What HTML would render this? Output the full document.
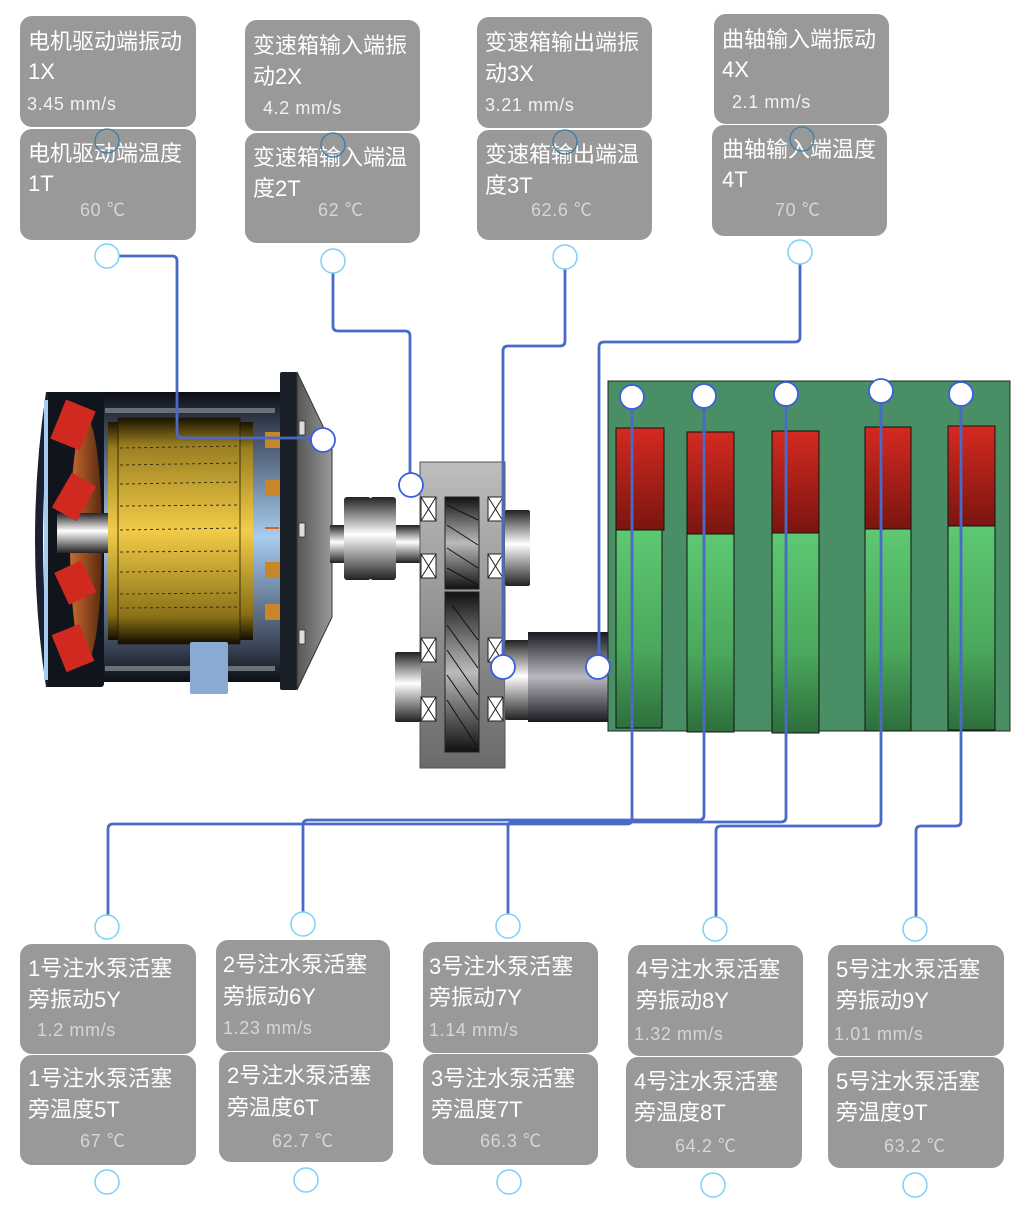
<!DOCTYPE html>
<html><head><meta charset="utf-8"><style>
html,body{margin:0;padding:0;background:#fff;width:1028px;height:1208px;overflow:hidden}
svg{display:block}
.t{font-family:"Liberation Sans","Noto Sans CJK SC",sans-serif;font-size:22px;fill:#fff}
.v{font-family:"Liberation Sans","Noto Sans CJK SC",sans-serif;font-size:18px;fill:#f2f2f2;letter-spacing:0.6px}
.vt{font-family:"Liberation Sans","Noto Sans CJK SC",sans-serif;font-size:18px;fill:#d6d6d6;letter-spacing:0.6px}
.b{fill:#999}
.c{fill:#fff;stroke:#7fd0f5;stroke-width:1.5}
.f{fill:none;stroke:#3a7ea8;stroke-width:1.3}
.w{fill:none;stroke:#4a6ac8;stroke-width:2.8;stroke-linejoin:round}
.wc{fill:#fff;stroke:#3a5ee0;stroke-width:1.8}
</style></head><body>
<svg width="1028" height="1208" viewBox="0 0 1028 1208">
<defs>
<linearGradient id="red" x1="0" y1="0" x2="0" y2="1"><stop offset="0" stop-color="#d42a20"/><stop offset="1" stop-color="#7a1510"/></linearGradient>
<linearGradient id="grn" x1="0" y1="0" x2="0" y2="1"><stop offset="0" stop-color="#5ec872"/><stop offset="0.6" stop-color="#4aa85c"/><stop offset="1" stop-color="#2e6e3c"/></linearGradient>
<linearGradient id="cyl" x1="0" y1="0" x2="0" y2="1"><stop offset="0" stop-color="#222"/><stop offset="0.45" stop-color="#fff"/><stop offset="1" stop-color="#222"/></linearGradient>
<linearGradient id="cyl2" x1="0" y1="0" x2="0" y2="1"><stop offset="0" stop-color="#1a1a22"/><stop offset="0.5" stop-color="#b8b8c0"/><stop offset="1" stop-color="#1a1a22"/></linearGradient>
<linearGradient id="gear" x1="0" y1="0" x2="0" y2="1"><stop offset="0" stop-color="#111"/><stop offset="0.5" stop-color="#bbb"/><stop offset="1" stop-color="#111"/></linearGradient>
<linearGradient id="gbox" x1="0" y1="0" x2="0" y2="1"><stop offset="0" stop-color="#bdbdbd"/><stop offset="1" stop-color="#6a6a6a"/></linearGradient>
<linearGradient id="gold" x1="0" y1="0" x2="0" y2="1"><stop offset="0" stop-color="#1a1400"/><stop offset="0.12" stop-color="#9a7e20"/><stop offset="0.5" stop-color="#f2cc48"/><stop offset="0.88" stop-color="#8a7018"/><stop offset="1" stop-color="#120e00"/></linearGradient>
<linearGradient id="body" x1="0" y1="0" x2="0" y2="1"><stop offset="0" stop-color="#0c0e14"/><stop offset="0.12" stop-color="#3a4456"/><stop offset="0.5" stop-color="#a8ccf0"/><stop offset="0.88" stop-color="#3a4456"/><stop offset="1" stop-color="#0c0e14"/></linearGradient>
<linearGradient id="plate" x1="0" y1="0" x2="1" y2="0"><stop offset="0" stop-color="#555"/><stop offset="1" stop-color="#9a9a9a"/></linearGradient>
<linearGradient id="disk" x1="0" y1="0" x2="1" y2="0"><stop offset="0" stop-color="#c86a30"/><stop offset="1" stop-color="#5a2a10"/></linearGradient>
</defs>

<!-- Motor -->
<path d="M46 392 Q24 540 46 687 L52 687 Q34 540 52 392 Z" fill="#1a2030"/>
<rect x="44" y="400" width="6" height="280" fill="#a8ccf0"/>
<rect x="100" y="392" width="182" height="290" fill="url(#body)"/>
<g fill="#6a6f78"><rect x="105" y="408" width="170" height="5"/><rect x="105" y="666" width="170" height="5"/></g>
<rect x="48" y="392" width="56" height="295" rx="3" fill="#10141c"/>
<ellipse cx="86" cy="540" rx="16" ry="122" fill="url(#disk)"/>
<rect x="57" y="513" width="53" height="40" fill="url(#cyl)"/>
<g fill="#d02a20">
<rect x="57" y="404" width="32" height="42" transform="rotate(22 73 425)"/>
<rect x="60" y="477" width="28" height="40" transform="rotate(30 74 497)"/>
<rect x="60" y="565" width="30" height="35" transform="rotate(-25 75 582)"/>
<rect x="58" y="628" width="30" height="40" transform="rotate(-22 73 648)"/>
</g>
<rect x="108" y="422" width="145" height="218" fill="url(#gold)"/>
<rect x="118" y="418" width="122" height="226" fill="url(#gold)" stroke="#221a00" stroke-width="0.8"/>
<g stroke="#3a3010" stroke-dasharray="3 3" stroke-width="1">
<line x1="120" y1="448" x2="240" y2="446"/><line x1="120" y1="465" x2="240" y2="463"/><line x1="120" y1="484" x2="240" y2="482"/><line x1="120" y1="506" x2="240" y2="505"/><line x1="120" y1="530" x2="240" y2="528"/><line x1="120" y1="552" x2="240" y2="551"/><line x1="120" y1="572" x2="240" y2="571"/><line x1="120" y1="594" x2="240" y2="593"/><line x1="120" y1="608" x2="240" y2="607"/>
</g>
<g fill="#c8862a"><rect x="265" y="432" width="20" height="16"/><rect x="265" y="480" width="20" height="16"/><rect x="265" y="562" width="20" height="16"/><rect x="265" y="604" width="20" height="16"/></g>
<rect x="265" y="527" width="14" height="2" fill="#e06020"/>
<rect x="190" y="642" width="38" height="52" rx="2" fill="#8aaad4"/>
<rect x="280" y="372" width="17" height="318" rx="2" fill="#1a1e26"/>
<path d="M297 372 L332 445 L332 617 L297 690 Z" fill="url(#plate)" stroke="#333"/>
<g fill="#ddd" stroke="#333" stroke-width="0.8"><rect x="299" y="421" width="6" height="14"/><rect x="299" y="523" width="6" height="14"/><rect x="299" y="630" width="6" height="14"/></g>

<!-- left shaft -->
<rect x="330" y="525" width="92" height="38" fill="url(#cyl)"/>
<rect x="344" y="497" width="27" height="83" rx="3" fill="url(#cyl)"/>
<rect x="370" y="497" width="26" height="83" rx="3" fill="url(#cyl)"/>

<!-- Gearbox -->
<rect x="420" y="462" width="85" height="306" fill="url(#gbox)" stroke="#555"/>
<rect x="395" y="652" width="26" height="70" rx="2" fill="url(#cyl)"/>
<rect x="505" y="510" width="25" height="76" rx="2" fill="url(#cyl)"/>
<rect x="445" y="497" width="34" height="92" fill="url(#gear)" stroke="#222"/>
<rect x="445" y="592" width="34" height="160" fill="url(#gear)" stroke="#222"/>
<g stroke="#111" stroke-width="1">
<line x1="447" y1="505" x2="478" y2="520"/><line x1="447" y1="525" x2="478" y2="545"/><line x1="447" y1="548" x2="478" y2="568"/><line x1="447" y1="568" x2="478" y2="585"/>
<line x1="452" y1="605" x2="478" y2="640"/><line x1="447" y1="625" x2="478" y2="668"/><line x1="447" y1="650" x2="478" y2="695"/><line x1="447" y1="675" x2="478" y2="720"/><line x1="447" y1="700" x2="476" y2="745"/>
</g>
<g fill="#fff" stroke="#222" stroke-width="1">
<rect x="421" y="497" width="15" height="24"/><rect x="421" y="554" width="15" height="24"/><rect x="421" y="638" width="15" height="24"/><rect x="421" y="697" width="15" height="24"/>
<rect x="488" y="497" width="15" height="24"/><rect x="488" y="554" width="15" height="24"/><rect x="488" y="638" width="15" height="24"/><rect x="488" y="697" width="15" height="24"/>
</g>
<g stroke="#222" stroke-width="1">
<path d="M421 497 L436 521 M436 497 L421 521 M421 554 L436 578 M436 554 L421 578 M421 638 L436 662 M436 638 L421 662 M421 697 L436 721 M436 697 L421 721"/>
<path d="M488 497 L503 521 M503 497 L488 521 M488 554 L503 578 M503 554 L488 578 M488 638 L503 662 M503 638 L488 662 M488 697 L503 721 M503 697 L488 721"/>
</g>
<rect x="505" y="640" width="25" height="80" rx="2" fill="url(#cyl)"/>
<rect x="528" y="632" width="82" height="90" fill="url(#cyl2)"/>

<!-- Pump -->
<rect x="608" y="381" width="402" height="350" fill="#4a8e66" stroke="#1a2a1a"/>
<g stroke="#111" stroke-width="1">
<rect x="616" y="428" width="48" height="102" fill="url(#red)"/><rect x="616" y="530" width="46" height="198" fill="url(#grn)"/>
<rect x="687" y="432" width="47" height="102" fill="url(#red)"/><rect x="687" y="534" width="47" height="198" fill="url(#grn)"/>
<rect x="772" y="431" width="47" height="102" fill="url(#red)"/><rect x="772" y="533" width="47" height="200" fill="url(#grn)"/>
<rect x="865" y="427" width="46" height="102" fill="url(#red)"/><rect x="865" y="529" width="46" height="202" fill="url(#grn)"/>
<rect x="948" y="426" width="47" height="100" fill="url(#red)"/><rect x="948" y="526" width="47" height="204" fill="url(#grn)"/>
</g>

<!-- Top boxes -->
<rect class="b" x="20" y="16" width="176" height="111" rx="12"/><rect class="b" x="20" y="129" width="176" height="111" rx="12"/>
<rect class="b" x="245" y="20" width="175" height="111" rx="12"/><rect class="b" x="245" y="133" width="175" height="110" rx="12"/>
<rect class="b" x="477" y="17" width="175" height="111" rx="12"/><rect class="b" x="477" y="130" width="175" height="110" rx="12"/>
<rect class="b" x="714" y="14" width="175" height="110" rx="12"/><rect class="b" x="712" y="125" width="175" height="111" rx="12"/>

<text class="t" x="28" y="49">电机驱动端振动</text><text class="t" x="28" y="79">1X</text><text class="v" x="27" y="110">3.45 mm/s</text>
<text class="t" x="28" y="161">电机驱动端温度</text><text class="t" x="28" y="191">1T</text><text class="vt" x="80" y="216">60 ℃</text>
<text class="t" x="253" y="53">变速箱输入端振</text><text class="t" x="253" y="84">动2X</text><text class="v" x="263" y="114">4.2 mm/s</text>
<text class="t" x="253" y="165">变速箱输入端温</text><text class="t" x="253" y="196">度2T</text><text class="vt" x="318" y="216">62 ℃</text>
<text class="t" x="485" y="50">变速箱输出端振</text><text class="t" x="485" y="81">动3X</text><text class="v" x="485" y="111">3.21 mm/s</text>
<text class="t" x="485" y="162">变速箱输出端温</text><text class="t" x="485" y="193">度3T</text><text class="vt" x="531" y="216">62.6 ℃</text>
<text class="t" x="722" y="47">曲轴输入端振动</text><text class="t" x="722" y="77">4X</text><text class="v" x="732" y="108">2.1 mm/s</text>
<text class="t" x="722" y="157">曲轴输入端温度</text><text class="t" x="722" y="187">4T</text><text class="vt" x="775" y="216">70 ℃</text>

<g class="f"><circle cx="107" cy="141" r="12"/><circle cx="333" cy="145" r="12"/><circle cx="565" cy="142" r="12"/><circle cx="802" cy="139" r="12"/></g>

<!-- Bottom boxes -->
<rect class="b" x="20" y="944" width="176" height="110" rx="12"/><rect class="b" x="20" y="1055" width="176" height="110" rx="12"/>
<rect class="b" x="216" y="940" width="174" height="111" rx="12"/><rect class="b" x="219" y="1052" width="174" height="110" rx="12"/>
<rect class="b" x="423" y="942" width="175" height="111" rx="12"/><rect class="b" x="423" y="1054" width="175" height="111" rx="12"/>
<rect class="b" x="628" y="945" width="175" height="111" rx="12"/><rect class="b" x="626" y="1057" width="176" height="111" rx="12"/>
<rect class="b" x="828" y="945" width="176" height="111" rx="12"/><rect class="b" x="828" y="1057" width="176" height="111" rx="12"/>

<text class="t" x="28" y="976">1号注水泵活塞</text><text class="t" x="28" y="1007">旁振动5Y</text><text class="vt" x="37" y="1036">1.2 mm/s</text>
<text class="t" x="28" y="1086">1号注水泵活塞</text><text class="t" x="28" y="1117">旁温度5T</text><text class="vt" x="80" y="1147">67 ℃</text>
<text class="t" x="223" y="972">2号注水泵活塞</text><text class="t" x="223" y="1004">旁振动6Y</text><text class="vt" x="223" y="1034">1.23 mm/s</text>
<text class="t" x="227" y="1083">2号注水泵活塞</text><text class="t" x="227" y="1115">旁温度6T</text><text class="vt" x="272" y="1147">62.7 ℃</text>
<text class="t" x="429" y="974">3号注水泵活塞</text><text class="t" x="429" y="1005">旁振动7Y</text><text class="vt" x="429" y="1036">1.14 mm/s</text>
<text class="t" x="431" y="1086">3号注水泵活塞</text><text class="t" x="431" y="1117">旁温度7T</text><text class="vt" x="480" y="1147">66.3 ℃</text>
<text class="t" x="636" y="977">4号注水泵活塞</text><text class="t" x="636" y="1008">旁振动8Y</text><text class="vt" x="634" y="1040">1.32 mm/s</text>
<text class="t" x="634" y="1089">4号注水泵活塞</text><text class="t" x="634" y="1120">旁温度8T</text><text class="vt" x="675" y="1152">64.2 ℃</text>
<text class="t" x="836" y="977">5号注水泵活塞</text><text class="t" x="836" y="1008">旁振动9Y</text><text class="vt" x="834" y="1040">1.01 mm/s</text>
<text class="t" x="836" y="1089">5号注水泵活塞</text><text class="t" x="836" y="1120">旁温度9T</text><text class="vt" x="884" y="1152">63.2 ℃</text>

<!-- Connectors -->
<g class="w">
<path d="M107 256 H172 Q177 256 177 261 V433 Q177 438 182 438 H323"/>
<path d="M333 261 V326 Q333 331 338 331 H405 Q410 331 410 336 V485"/>
<path d="M565 257 V341 Q565 346 560 346 H508 Q503 346 503 351 V667"/>
<path d="M800 252 V337 Q800 342 795 342 H604 Q599 342 599 347 V667"/>
<path d="M632 397 V819 Q632 824 627 824 H113 Q108 824 108 829 V927"/>
<path d="M704 397 V815 Q704 820 699 820 H308 Q303 820 303 825 V924"/>
<path d="M786 394 V817 Q786 822 781 822 H513 Q508 822 508 827 V926"/>
<path d="M881 391 V821 Q881 826 876 826 H721 Q716 826 716 831 V929"/>
<path d="M961 394 V821 Q961 826 956 826 H921 Q916 826 916 831 V929"/>
</g>
<g class="wc">
<circle cx="323" cy="440" r="12"/><circle cx="411" cy="485" r="12"/><circle cx="503" cy="667" r="12"/><circle cx="598" cy="667" r="12"/>
<circle cx="632" cy="397" r="12"/><circle cx="704" cy="396" r="12"/><circle cx="786" cy="394" r="12"/><circle cx="881" cy="391" r="12"/><circle cx="961" cy="394" r="12"/>
</g>
<g class="c">
<circle cx="107" cy="256" r="12"/><circle cx="333" cy="261" r="12"/><circle cx="565" cy="257" r="12"/><circle cx="800" cy="252" r="12"/>
<circle cx="107" cy="927" r="12"/><circle cx="303" cy="924" r="12"/><circle cx="508" cy="926" r="12"/><circle cx="715" cy="929" r="12"/><circle cx="915" cy="929" r="12"/>
<circle cx="107" cy="1182" r="12"/><circle cx="306" cy="1180" r="12"/><circle cx="509" cy="1182" r="12"/><circle cx="713" cy="1185" r="12"/><circle cx="915" cy="1185" r="12"/>
</g>
</svg>
</body></html>
